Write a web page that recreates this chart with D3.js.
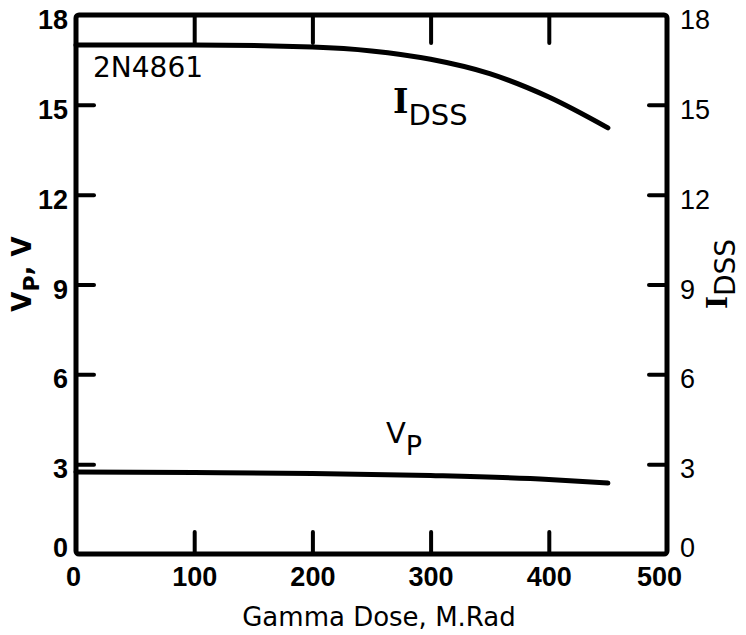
<!DOCTYPE html>
<html>
<head>
<meta charset="utf-8">
<script src="https://cdn.jsdelivr.net/npm/d3@7"></script>
<style>
body { margin: 0; background: #fff; }
svg { display: block; }
.ticklab { font-family: "Liberation Sans", Arial, sans-serif; font-weight: bold; font-size: 27px; fill: #000; }
.lettering { font-family: "DejaVu Sans", sans-serif; fill: #000; }
</style>
</head>
<body>
<script>
// dose axis (M.Rad) and the two curves
var dose = [0, 100, 200, 250, 300, 350, 400, 450];
var idss = [17.0, 17.0, 16.93, 16.8, 16.52, 16.04, 15.26, 14.23];
var vpDose = [0, 100, 200, 300, 400, 450];
var vp = [2.74, 2.72, 2.69, 2.62, 2.49, 2.37];
var xTicks = [0, 100, 200, 300, 400, 500];
var yTicks = [0, 3, 6, 9, 12, 15, 18];

var width = 746, height = 635;
var plotLeft = 76, plotRight = 667, plotTop = 15, plotBottom = 554;

var svg = d3.select("body").append("svg")
	.attr("width", width)
	.attr("height", height);

var x = d3.scaleLinear().domain([0, 500]).range([plotLeft, plotRight]);
var y = d3.scaleLinear().domain([0, 18]).range([plotBottom, plotTop]);

function styleAxis(g) {
	g.select(".domain").remove();
	g.selectAll(".tick line").attr("stroke", "#000").attr("stroke-width", 4).attr("stroke-linecap", "round");
	g.selectAll(".tick text").attr("class", "ticklab").attr("fill", "#000");
}

// bottom axis
svg.append("g")
	.attr("transform", "translate(0," + plotBottom + ")")
	.call(d3.axisBottom(x).tickValues(xTicks).tickSizeInner(-22).tickSizeOuter(0).tickPadding(13).tickFormat(d3.format("d")))
	.call(styleAxis)
	.call(function (g) {
		g.selectAll(".tick").filter(function (d) { return d == 0 || d == 500; }).select("line").remove();
		g.selectAll(".tick text").attr("dy", "0.71em").attr("dx", function (d) { return d == 500 ? -8 : (d == 0 ? -3 : 0); });
	});

// top axis, ticks only
svg.append("g")
	.attr("transform", "translate(0," + plotTop + ")")
	.call(d3.axisTop(x).tickValues([100, 200, 300, 400]).tickSizeInner(-28).tickSizeOuter(0).tickFormat(""))
	.call(styleAxis);

// left axis
svg.append("g")
	.attr("transform", "translate(" + plotLeft + ",0)")
	.call(d3.axisLeft(y).tickValues(yTicks).tickSizeInner(-18).tickSizeOuter(0).tickPadding(8).tickFormat(d3.format("d")))
	.call(styleAxis)
	.call(function (g) {
		g.selectAll(".tick").filter(function (d) { return d == 0 || d == 18; }).select("line").remove();
		g.selectAll(".tick text").attr("dy", function (d) { return d == 0 ? "0.1em" : "0.5em"; });
	});

// right axis
svg.append("g")
	.attr("transform", "translate(" + plotRight + ",0)")
	.call(d3.axisRight(y).tickValues(yTicks).tickSizeInner(-18).tickSizeOuter(0).tickPadding(13).tickFormat(d3.format("d")))
	.call(styleAxis)
	.call(function (g) {
		g.selectAll(".tick").filter(function (d) { return d == 0 || d == 18; }).select("line").remove();
		g.selectAll(".tick text").style("font-weight", "normal").attr("dy", function (d) { return d == 0 ? "0.1em" : "0.5em"; });
	});

// frame
svg.append("rect")
	.attr("x", plotLeft)
	.attr("y", plotTop)
	.attr("width", plotRight - plotLeft)
	.attr("height", plotBottom - plotTop)
	.attr("rx", 3)
	.attr("fill", "none")
	.attr("stroke", "#000")
	.attr("stroke-width", 5);

// curves
var line = d3.line()
	.x(function (d) { return x(d[0]); })
	.y(function (d) { return y(d[1]); })
	.curve(d3.curveMonotoneX);

svg.append("path")
	.datum(d3.zip(dose, idss))
	.attr("d", line)
	.attr("fill", "none")
	.attr("stroke", "#000")
	.attr("stroke-width", 5)
	.attr("stroke-linecap", "round");

svg.append("path")
	.datum(d3.zip(vpDose, vp))
	.attr("d", line)
	.attr("fill", "none")
	.attr("stroke", "#000")
	.attr("stroke-width", 5)
	.attr("stroke-linecap", "round");

// labels
svg.append("text")
	.attr("class", "lettering")
	.attr("x", 93)
	.attr("y", 77)
	.attr("font-size", 28)
	.text("2N4861");

var idssLab = svg.append("text")
	.attr("class", "lettering")
	.attr("x", 393)
	.attr("y", 113)
	.attr("font-size", 33);
idssLab.append("tspan").attr("font-family", "DejaVu Serif").attr("font-weight", "bold").text("I");
idssLab.append("tspan").attr("font-size", 29).attr("dy", 12).text("DSS");

var vpLab = svg.append("text")
	.attr("class", "lettering")
	.attr("x", 386)
	.attr("y", 443)
	.attr("font-size", 29);
vpLab.append("tspan").text("V");
vpLab.append("tspan").attr("font-size", 27).attr("dy", 12).text("P");

// axis titles
svg.append("text")
	.attr("class", "lettering")
	.attr("x", 379)
	.attr("y", 626)
	.attr("text-anchor", "middle")
	.attr("font-size", 26)
	.text("Gamma Dose, M.Rad");

var yTitle = svg.append("text")
	.attr("class", "lettering")
	.attr("transform", "translate(31,274) rotate(-90)")
	.attr("text-anchor", "middle")
	.attr("font-size", 26)
	.attr("font-weight", "bold");
yTitle.append("tspan").text("V");
yTitle.append("tspan").attr("font-size", 22).attr("dy", 8).text("P");
yTitle.append("tspan").attr("dy", -8).text(", V");

var y2Title = svg.append("text")
	.attr("class", "lettering")
	.attr("transform", "translate(727,274) rotate(-90)")
	.attr("text-anchor", "middle")
	.attr("font-size", 28);
y2Title.append("tspan").attr("font-family", "DejaVu Serif").attr("font-weight", "bold").text("I");
y2Title.append("tspan").attr("dy", 8).text("DSS");
</script>
</body>
</html>
